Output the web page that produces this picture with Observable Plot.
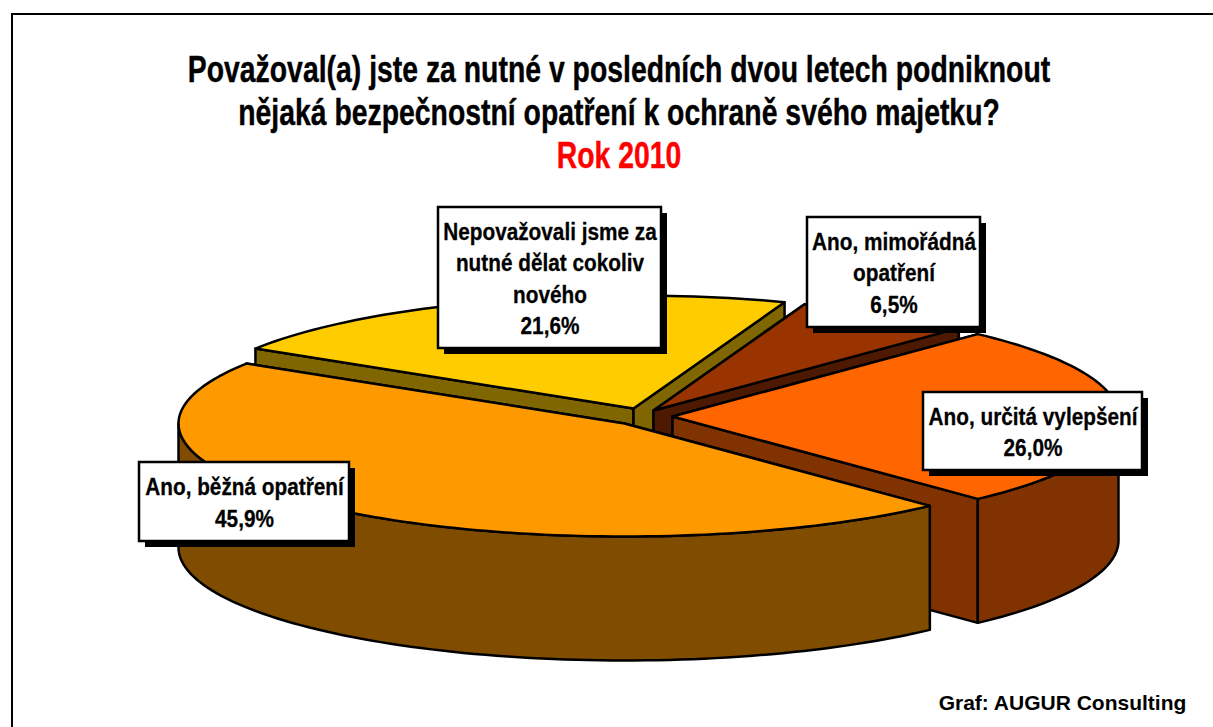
<!DOCTYPE html>
<html><head><meta charset="utf-8">
<style>html,body{margin:0;padding:0;background:#fff}svg{display:block}</style>
<script src="https://cdn.jsdelivr.net/npm/d3@7"></script>
<script src="https://cdn.jsdelivr.net/npm/@observablehq/plot@0.6"></script>
</head><body><div id="c"></div>
<script>
// Data
const categories = ["Ano, určitá vylepšení", "Ano, běžná opatření", "Nepovažovali jsme za nutné dělat cokoliv nového", "Ano, mimořádná opatření"];
const values = [26.0, 45.9, 21.6, 6.5];
const valueLabels = ["26,0%", "45,9%", "21,6%", "6,5%"];
const labelLines = ["Ano, určitá vylepšení", "Ano, běžná opatření", "Nepovažovali jsme za\nnutné dělat cokoliv\nnového", "Ano, mimořádná\nopatření"];
const topColors = ["#FF6600", "#FF9900", "#FFCC00", "#993300"];
const sideColors = ["#803300", "#804D00", "#806600", "#4D1900"];
const titleLines = ["Považoval(a) jste za nutné v posledních dvou letech podniknout", "nějaká bezpečnostní opatření k ochraně svého majetku?", "Rok 2010"];
const credit = "Graf: AUGUR Consulting";

// Layout (pie projection)
const W = 1213, H = 727;
const startAngle = 46.8, rx = 446, ry = 113, depth = 124;
const centers = [[672, 416], [624, 423], [633, 408], [653, 410]];
const boxes = [[923, 392, 1142, 470], [139, 462, 349, 541], [438, 207, 661, 348], [807, 217, 980, 327]];
const drawOrder = [2, 3, 0, 1];

const total = d3.sum(values);
const cum = d3.cumsum(values);
const angles = values.map((v, i) => [startAngle - (i ? cum[i - 1] : 0) / total * 360, startAngle - cum[i] / total * 360]);
const rad = Math.PI / 180;
const pt = (i, t, dz = 0) => [centers[i][0] + rx * Math.cos(t * rad), centers[i][1] - ry * Math.sin(t * rad) + dz];
const arc = (i, a, b, dz = 0) => {
  const n = Math.max(2, Math.ceil(Math.abs(a - b) / 1.5));
  return d3.range(n + 1).map(k => pt(i, a + (b - a) * k / n, dz));
};
const polys = [];
const add = (pts, fill) => { const id = polys.length; polys.push(...pts.map(p => ({id, x: p[0], y: p[1], fill}))); };
for (const i of drawOrder) {
  const [a, b] = angles[i];
  const c = centers[i];
  for (const t of [a, b]) {
    const p = pt(i, t);
    add([c, p, [p[0], p[1] + depth], [c[0], c[1] + depth]], sideColors[i]);
  }
  const lo = Math.max(b, -180), hi = Math.min(a, 0);
  if (hi > lo) add([...arc(i, hi, lo), ...arc(i, lo, hi, depth)], sideColors[i]);
  add([c, ...arc(i, a, b)], topColors[i]);
}
const boxTable = boxes.map(([x1, y1, x2, y2], i) => ({x1, y1, x2, y2, text: labelLines[i] + "\n" + valueLabels[i]}));
const face = "'Liberation Sans',Arial,sans-serif";
const plot = Plot.plot({
  width: W, height: H, margin: 0,
  x: {type: "linear", domain: [0, W], range: [0, W], axis: null},
  y: {type: "linear", domain: [0, H], range: [0, H], axis: null},
  color: {type: "identity"},
  style: {background: "#fff"},
  marks: [
    Plot.ruleY([13.5], {x1: 11, x2: W, stroke: "#000", strokeWidth: 2}),
    Plot.ruleX([11.5], {y1: 13, y2: H, stroke: "#000", strokeWidth: 2}),
    Plot.line(polys, {x: "x", y: "y", z: "id", fill: "fill", stroke: "#000", strokeWidth: 2.5, curve: "linear-closed", strokeLinejoin: "round"}),
    Plot.rect(boxTable, {x1: d => d.x1 + 6, x2: d => d.x2 + 6, y1: d => d.y1 + 6, y2: d => d.y2 + 6, fill: "#000"}),
    Plot.rect(boxTable, {x1: "x1", x2: "x2", y1: "y1", y2: "y2", fill: "#fff", stroke: "#000", strokeWidth: 2.5}),
    Plot.text(boxTable, {className: "narrow-l", x: d => (d.x1 + d.x2) / 2, y: d => (d.y1 + d.y2) / 2 - 1, text: "text", fontFamily: face, fontWeight: "bold", fontSize: 24, lineHeight: 1.3, fill: "#000", stroke: "#000", strokeWidth: 0.3}),
    Plot.text(titleLines, {className: "narrow-t", x: () => 618.5, y: (d, i) => [70, 113, 156][i], text: d => d, fontFamily: face, fontWeight: "bold", fontSize: 37, fill: (d, i) => i === 2 ? "#FF0000" : "#000000", stroke: (d, i) => i === 2 ? "#FF0000" : "#000000", strokeWidth: 0.4}),
    Plot.text([credit], {x: () => 1062, y: () => 703, text: d => d, fontFamily: face, fontWeight: "bold", fontSize: 21, fill: "#000"})
  ]
});
document.getElementById("c").appendChild(plot);
// Horizontal condensing, as the reference uses a narrow bold face
const condense = (cls, k) => d3.select(plot).selectAll(`.${cls} text`).attr("transform", function () {
  return (this.getAttribute("transform") || "") + ` scale(${k},1)`;
});
condense("narrow-l", 0.866);
condense("narrow-t", 0.767);
</script></body></html>
